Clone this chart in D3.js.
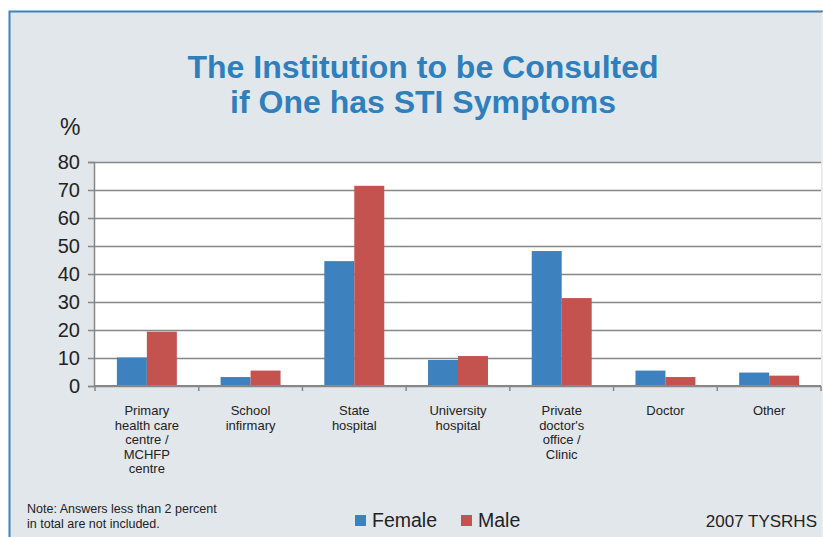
<!DOCTYPE html>
<html>
<head>
<meta charset="utf-8">
<script src="https://cdn.jsdelivr.net/npm/d3@7"></script>
<style>
  html, body { margin: 0; padding: 0; background: #fff; }
  svg { display: block; font-family: "Liberation Sans", Arial, sans-serif; }
</style>
</head>
<body>
<div id="chart"></div>
<script>
const categories = [
  "Primary\nhealth care\ncentre /\nMCHFP\ncentre",
  "School\ninfirmary",
  "State\nhospital",
  "University\nhospital",
  "Private\ndoctor's\noffice /\nClinic",
  "Doctor",
  "Other"
];
const seriesNames = ["Female", "Male"];
const female = [10.2, 3.2, 44.6, 9.3, 48.2, 5.5, 4.8];
const male = [19.4, 5.5, 71.5, 10.7, 31.4, 3.2, 3.7];
const yTicks = [0, 10, 20, 30, 40, 50, 60, 70, 80];
const colors = { Female: "#3d82bf", Male: "#c4524f" };

const width = 823, height = 537;
const plot = { left: 94, right: 821, top: 162, bottom: 386 };

const svg = d3.select("#chart").append("svg")
  .attr("width", width).attr("height", height);

// frame (runs off the right and bottom edges)
svg.append("rect")
  .attr("x", 9.5).attr("y", 11.5)
  .attr("width", 830).attr("height", 540)
  .attr("fill", "#e2e7ec")
  .attr("stroke", "#3b84c0").attr("stroke-width", 2);
svg.append("line")
  .attr("x1", 822.5).attr("x2", 822.5).attr("y1", 12).attr("y2", height)
  .attr("stroke", "#eef1f4").attr("stroke-width", 1);

// title
svg.append("text")
  .attr("x", 423).attr("text-anchor", "middle")
  .attr("fill", "#2e7fbc").attr("font-weight", "bold").attr("font-size", 32)
  .selectAll("tspan")
  .data(["The Institution to be Consulted", "if One has STI Symptoms"])
  .join("tspan")
  .attr("x", 423)
  .attr("y", (d, i) => 78 + i * 35)
  .text(d => d);

svg.append("text")
  .attr("x", 60).attr("y", 135)
  .attr("font-size", 23).attr("fill", "#222")
  .text("%");

const x0 = d3.scaleBand().domain(d3.range(categories.length))
  .range([plot.left + 1, plot.right]).padding(0);
const x1 = d3.scaleBand().domain(seriesNames)
  .range([0, x0.bandwidth()]).paddingInner(0).paddingOuter(0.73);
const y = d3.scaleLinear().domain([0, 80]).range([plot.bottom, plot.top]);

// plot area
svg.append("rect")
  .attr("x", plot.left).attr("y", plot.top)
  .attr("width", plot.right - plot.left).attr("height", plot.bottom - plot.top)
  .attr("fill", "#fff");

// gridlines + y axis
const yAxis = svg.append("g")
  .attr("transform", `translate(${plot.left},0)`)
  .call(d3.axisLeft(y).tickValues(yTicks).tickSize(6).tickPadding(8));
yAxis.select(".domain").attr("stroke", "#878787").attr("stroke-width", 1.5);
yAxis.selectAll(".tick line").attr("stroke", "#878787").attr("stroke-width", 1.5);
yAxis.selectAll(".tick text")
  .attr("font-size", 20).attr("fill", "#222")
  .attr("font-family", "'Liberation Sans', Arial, sans-serif");
yAxis.selectAll(".tick").append("line")
  .attr("x1", 0).attr("x2", plot.right - plot.left)
  .attr("stroke", "#878787").attr("stroke-width", 1.6);

// bars
const rows = categories.map((c, i) => ({ i, values: [
  { key: "Female", value: female[i] },
  { key: "Male", value: male[i] }
]}));

svg.append("g").selectAll("g")
  .data(rows).join("g")
  .attr("transform", d => `translate(${x0(d.i)},0)`)
  .selectAll("rect")
  .data(d => d.values).join("rect")
  .attr("x", d => x1(d.key))
  .attr("width", x1.bandwidth())
  .attr("y", d => y(d.value))
  .attr("height", d => y(0) - y(d.value))
  .attr("fill", d => colors[d.key]);

// x axis
const xBoundaries = d3.range(categories.length + 1)
  .map(i => i < categories.length ? x0(i) : plot.right);
const xg = svg.append("g");
xg.append("line")
  .attr("x1", plot.left).attr("x2", plot.right)
  .attr("y1", y(0)).attr("y2", y(0))
  .attr("stroke", "#878787").attr("stroke-width", 2);
xg.selectAll("line.tick").data(xBoundaries).join("line")
  .attr("class", "tick")
  .attr("x1", d => d).attr("x2", d => d)
  .attr("y1", y(0)).attr("y2", y(0) + 5)
  .attr("stroke", "#878787").attr("stroke-width", 1.5);

xg.selectAll("text.cat").data(categories).join("text")
  .attr("class", "cat")
  .attr("text-anchor", "middle")
  .attr("font-size", 13).attr("fill", "#222")
  .each(function (d, i) {
    const cx = x0(i) + x0.bandwidth() / 2;
    d3.select(this).selectAll("tspan")
      .data(d.split("\n")).join("tspan")
      .attr("x", cx)
      .attr("y", (t, j) => 415 + j * 14.5)
      .text(t => t);
  });

// note
svg.append("text")
  .attr("font-size", 12.5).attr("fill", "#222")
  .selectAll("tspan")
  .data(["Note: Answers less than 2 percent", "in total are not included."])
  .join("tspan")
  .attr("x", 27)
  .attr("y", (d, i) => 513 + i * 14.5)
  .text(d => d);

// legend
const legendX = [355, 461];
const lg = svg.append("g").selectAll("g")
  .data(seriesNames).join("g")
  .attr("transform", (d, i) => `translate(${legendX[i]},515)`);
lg.append("rect")
  .attr("width", 11).attr("height", 11)
  .attr("fill", d => colors[d]);
lg.append("text")
  .attr("x", 17).attr("y", 12)
  .attr("font-size", 19.5).attr("fill", "#222")
  .text(d => d);

svg.append("text")
  .attr("x", 817).attr("y", 527)
  .attr("text-anchor", "end")
  .attr("font-size", 17).attr("fill", "#222")
  .text("2007 TYSRHS");
</script>
</body>
</html>
